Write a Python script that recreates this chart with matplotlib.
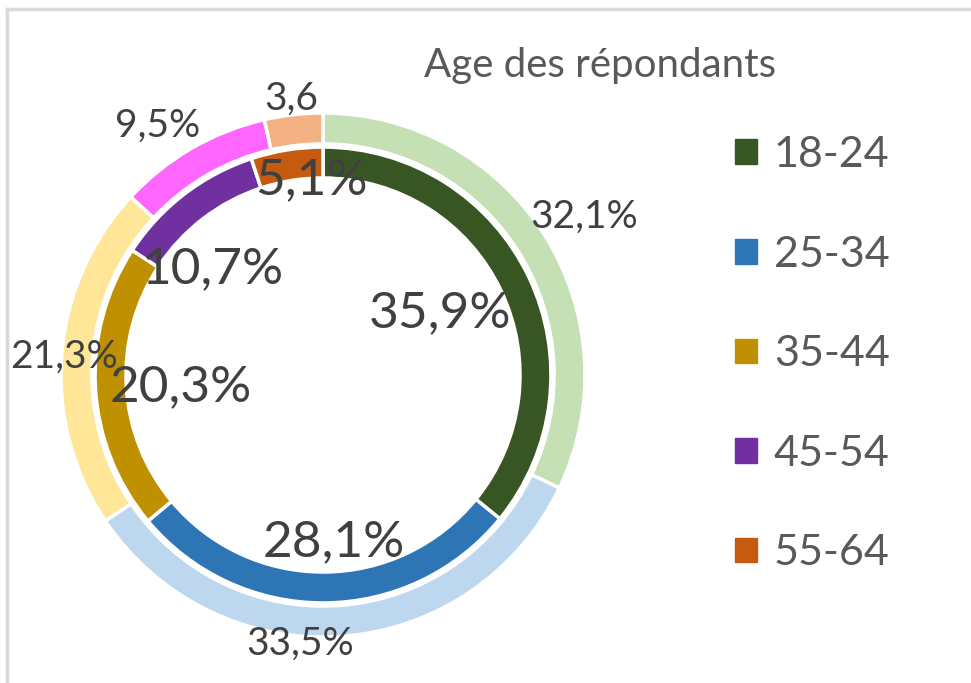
import numpy as np
import matplotlib
matplotlib.use("Agg")
import matplotlib.pyplot as plt
from matplotlib.patches import Patch
from matplotlib.lines import Line2D

# donnees
categories = ["18-24", "25-34", "35-44", "45-54", "55-64"]
outer_vals = [32.1, 33.5, 21.3, 9.5, 3.6]
inner_vals = [35.9, 28.1, 20.3, 10.7, 5.1]
outer_labels = ["32,1%", "33,5%", "21,3%", "9,5%", "3,6"]
inner_labels = ["35,9%", "28,1%", "20,3%", "10,7%", "5,1%"]

outer_colors = ["#c5e0b4", "#bdd7ee", "#ffe699", "#ff66ff", "#f4b183"]
inner_colors = ["#375623", "#2e75b6", "#bf9000", "#7030a0", "#c55a11"]

# placement des etiquettes (rayon, decalage angulaire en degres)
outer_pos = [(1.165, -1.0), (1.03, -9.0), (0.99, 0.5), (1.14, 3.5), (1.06, 0.0)]
inner_pos = [(0.504, 2.6), (0.641, 3.2), (0.546, 1.7), (0.584, 8.5), (0.744, -5.8)]

plt.rcParams['font.family'] = ['Lato', 'DejaVu Sans']
txt = "#404040"

W, H = 971, 683
fig = plt.figure(figsize=(W / 100, H / 100), dpi=100)

# cadre gris (haut et gauche)
fig.add_artist(Line2D([7 / W, 7 / W], [0, 1 - 9 / H], color="#d9d9d9", lw=2.5))
fig.add_artist(Line2D([7 / W, 1], [1 - 9 / H, 1 - 9 / H], color="#d9d9d9", lw=2.5))

cx, cy, R = 323, 375, 262
L = 1.2
side = 2 * L * R
ax = fig.add_axes([(cx - side / 2) / W, (H - cy - side / 2) / H, side / W, side / H])
ax.set_aspect("equal")
ax.axis("off")

wp = dict(width=0.118, edgecolor="white", linewidth=2.5)
ax.pie(outer_vals, radius=1.0, colors=outer_colors, startangle=90,
       counterclock=False, wedgeprops=wp)
ax.pie(inner_vals, radius=0.870, colors=inner_colors, startangle=90,
       counterclock=False, wedgeprops=wp)
ax.set_xlim(-L, L)
ax.set_ylim(-L, L)


def mid_angles(vals):
    c = np.cumsum([0] + list(vals))
    tot = c[-1]
    return [90 - (c[i] + vals[i] / 2) / tot * 360 for i in range(len(vals))]


for lab, ang, (r, d) in zip(outer_labels, mid_angles(outer_vals), outer_pos):
    a = np.radians(ang + d)
    ax.text(r * np.cos(a), r * np.sin(a), lab, ha="center", va="center",
            fontsize=28, color=txt)

for lab, ang, (r, d) in zip(inner_labels, mid_angles(inner_vals), inner_pos):
    a = np.radians(ang + d)
    ax.text(r * np.cos(a), r * np.sin(a), lab, ha="center", va="center",
            fontsize=37, color=txt)

fig.text(600 / W, 1 - 65 / H, "Age des répondants", ha="center", va="center",
         fontsize=29, color="#595959")

handles = [Patch(facecolor=c, edgecolor=c) for c in inner_colors]
fig.legend(handles, categories, loc="upper left",
           bbox_to_anchor=(735 / W, 1 - 136 / H), frameon=False,
           fontsize=31, labelcolor="#595959", handlelength=0.5, handleheight=0.5,
           handletextpad=0.4, labelspacing=1.43, borderpad=0, borderaxespad=0)

fig.savefig("out.png", dpi=100, facecolor="white")
